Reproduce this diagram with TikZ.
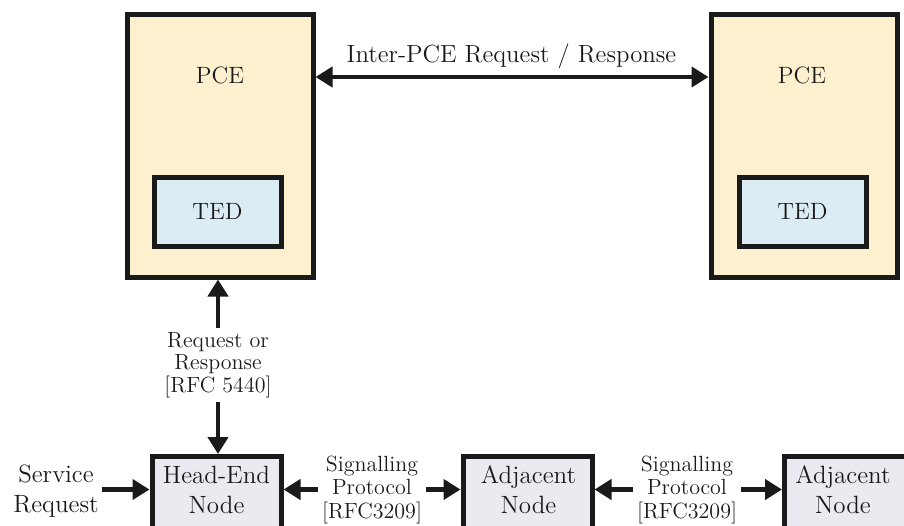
\documentclass[tikz,border=0pt]{standalone}
\usetikzlibrary{arrows.meta}
\definecolor{pcefill}{HTML}{FDF0CF}
\definecolor{tedfill}{HTML}{DCECF4}
\definecolor{nodefill}{HTML}{ECEAF1}
\definecolor{ink}{HTML}{1A1A1A}
\begin{document}
\begin{tikzpicture}[x=0.5pt,y=-0.5pt,
  box/.style={draw=ink, line width=2.5pt, inner sep=0pt},
  pcebox/.style={box, fill=pcefill, minimum width=93pt, minimum height=131.5pt},
  tedbox/.style={box, fill=tedfill, minimum width=63.5pt, minimum height=34.5pt,
                 font=\fontsize{11.8}{13}\selectfont, text=ink},
  netbox/.style={box, fill=nodefill, minimum width=64.5pt, minimum height=50pt, anchor=north},
  title/.style={font=\fontsize{11.8}{13}\selectfont, text=ink},
  nodetext/.style={align=center, font=\fontsize{12.5}{15}\selectfont, text=ink, inner sep=1.5pt},
  proto/.style={align=center, font=\fontsize{11}{11.75}\selectfont, text=ink, inner sep=2pt},
  pcep/.style={align=center, font=\fontsize{11}{11.25}\selectfont, text=ink, inner sep=2pt},
  tip/.tip={Triangle[width=10pt,length=8.5pt]},
  link/.style={draw=ink, line width=2.2pt, -tip},
  both/.style={draw=ink, line width=2.2pt, tip-tip}
]
\useasboundingbox (0,0) rectangle (904,525);
\clip (0,0) rectangle (904,525);

% path computation elements with their traffic engineering databases
\node[pcebox] (pceL) at (220,145.5) {};
\node[pcebox] (pceR) at (804,145.5) {};
\node[title] (pceLt) at (220,75) {PCE};
\node[title] (pceRt) at (802,75) {PCE};
\node[tedbox] (tedL) at (217.5,211.5) {TED};
\node[tedbox] (tedR) at (802.5,211.5) {TED};

% PCE to PCE communication
\coordinate (ipc) at (511.5,77);
\node[font=\fontsize{12.4}{14}\selectfont, text=ink] (ipcT) at (511.5,56) {Inter-PCE Request / Response};
\draw[both] (pceL.east |- ipc) -- (pceR.west |- ipc);

% network nodes along the path
\node[netbox] (he) at (216.5,454) {};
\node[netbox] (a1) at (527.5,454) {};
\node[netbox] (a2) at (849,454) {};
\node[nodetext] (heT) at (216.5,489.5) {Head-End\\Node};
\node[nodetext] (a1T) at (528.5,489.5) {Adjacent\\Node};
\node[nodetext] (a2T) at (843,489.5) {Adjacent\\Node};
\node[nodetext] (sr) at (56,491.5) {Service\\Request};

% PCC to PCE request / response
\node[pcep] (rr) at (218,364.8) {Request or\\Response\\{}[RFC 5440]};
\draw[link] (rr.north) -- (rr.north |- pceL.south);
\draw[link] (rr.south) -- (rr.south |- he.north);

% signalling between nodes
\node[proto] (p1) at (372,489.5) {Signalling\\Protocol\\{}[RFC3209]};
\node[proto] (p2) at (687,489.5) {Signalling\\Protocol\\{}[RFC3209]};
\draw[link] (sr.east |- p1.west) -- (p1.west -| he.west);
\draw[link] (p1.west) -- (p1.west -| he.east);
\draw[link] (p1.east) -- (p1.east -| a1.west);
\draw[link] (p2.west) -- (p2.west -| a1.east);
\draw[link] (p2.east) -- (p2.east -| a2.west);
\end{tikzpicture}
\end{document}
